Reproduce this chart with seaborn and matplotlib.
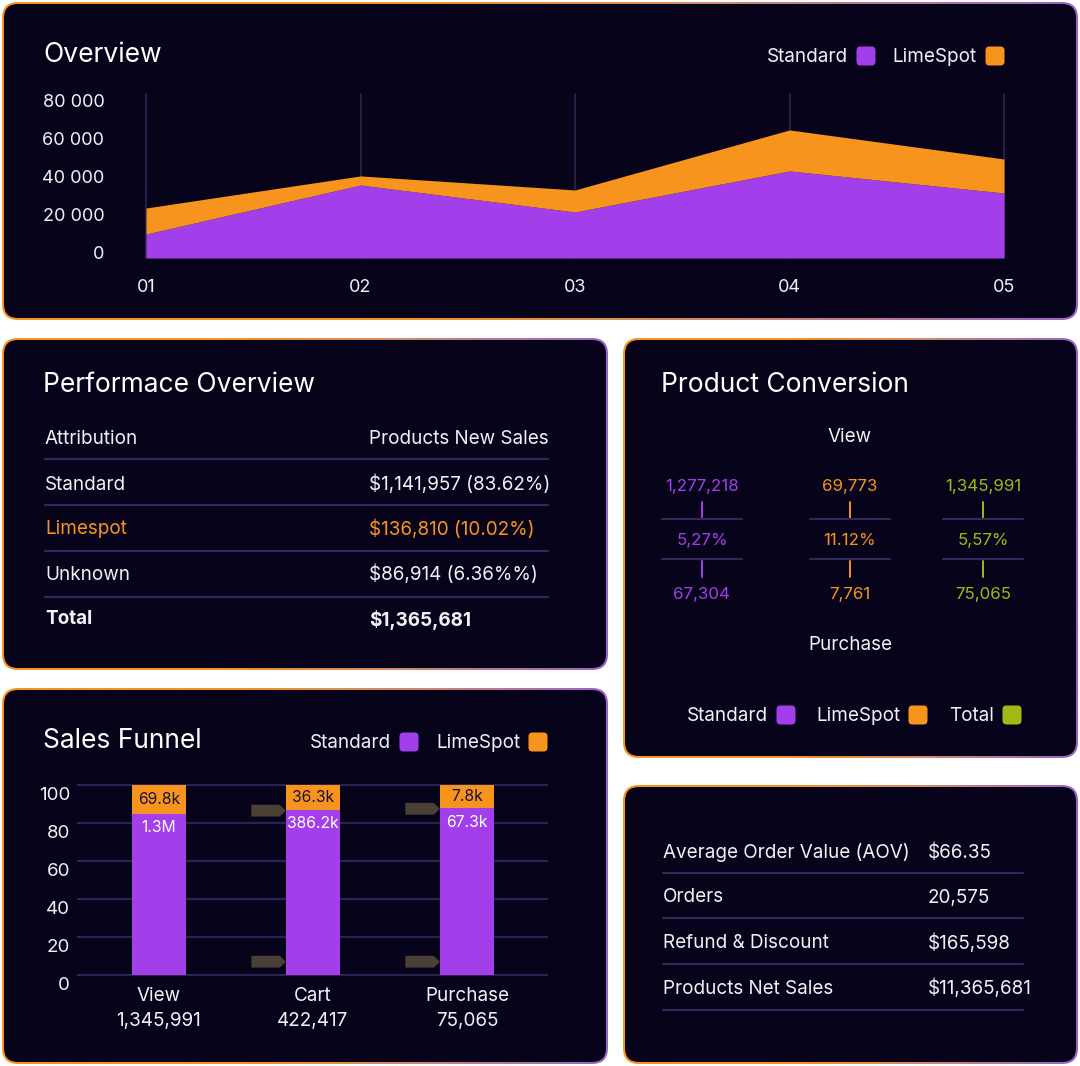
import numpy as np
import pandas as pd
import matplotlib
matplotlib.use("Agg")
import matplotlib.pyplot as plt
import matplotlib.transforms as mtransforms
from matplotlib.patches import FancyBboxPatch, Polygon
from matplotlib.colors import LinearSegmentedColormap
import seaborn as sns

# ---- data ----
periods = ["01", "02", "03", "04", "05"]
standard_sales = [12600, 38400, 24200, 45800, 34200]
limespot_sales = [13700, 4800, 11600, 21600, 17900]
overview_ticks = [0, 20000, 40000, 60000, 80000]

perf_headers = ["Attribution", "Products New Sales"]
perf_names = ["Standard", "Limespot", "Unknown", "Total"]
perf_values = ["$1,141,957 (83.62%)", "$136,810 (10.02%)", "$86,914 (6.36%%)", "$1,365,681"]

conv_series = ["Standard", "LimeSpot", "Total"]
conv_view = ["1,277,218", "69,773", "1,345,991"]
conv_rate = ["5,27%", "11.12%", "5,57%"]
conv_purchase = ["67,304", "7,761", "75,065"]

funnel_steps = ["View", "Cart", "Purchase"]
funnel_counts = ["1,345,991", "422,417", "75,065"]
funnel_standard = [85, 87, 88]
funnel_limespot = [15, 13, 12]
funnel_std_labels = ["1.3M", "386.2k", "67.3k"]
funnel_lime_labels = ["69.8k", "36.3k", "7.8k"]
funnel_ticks = [0, 20, 40, 60, 80, 100]

kpi_names = ["Average Order Value (AOV)", "Orders", "Refund & Discount", "Products Net Sales"]
kpi_values = ["$66.35", "20,575", "$165,598", "$11,365,681"]

# ---- style ----
BG = "#07031a"
PURPLE = "#a23fea"
ORANGE = "#f7941d"
GREEN = "#a3b814"
GRID = "#2b2452"
LINE = "#2f2a5a"
TEXT = "#f2f0f7"
ARROW = "#4a4036"
TITLE_SIZE = 19
BODY_SIZE = 13.6

sns.set_theme(style="dark")
plt.rcParams["font.family"] = ["Inter", "DejaVu Sans"]

W, H = 1080, 1066
fig = plt.figure(figsize=(W / 100, H / 100), dpi=100)
fig.patch.set_facecolor("white")

bg = fig.add_axes([0, 0, 1, 1])
bg.set_facecolor("white")
bg.axis("off")

edge_cmap = LinearSegmentedColormap.from_list("edge", [ORANGE, ORANGE, "#d08a6a", "#9b62c8"])
grad = np.linspace(0, 1, 256)[None, :]


def panel(x0, y0, x1, y1, r=16):
    outer = FancyBboxPatch((x0, y0), x1 - x0, y1 - y0,
                           boxstyle=f"round,pad=0,rounding_size={r}",
                           facecolor="none", edgecolor="none")
    bg.add_patch(outer)
    im = bg.imshow(grad, cmap=edge_cmap, extent=(x0, x1, y1, y0),
                   aspect="auto", interpolation="bilinear", zorder=1)
    im.set_clip_path(outer)
    inner = FancyBboxPatch((x0 + 2, y0 + 2), x1 - x0 - 4, y1 - y0 - 4,
                           boxstyle=f"round,pad=0,rounding_size={r - 2}",
                           facecolor=BG, edgecolor="none", zorder=2)
    bg.add_patch(inner)


def swatch(xc, yc, color, s=19):
    bg.add_patch(FancyBboxPatch((xc - s / 2, yc - s / 2), s, s,
                                boxstyle="round,pad=0,rounding_size=4",
                                facecolor=color, edgecolor="none", zorder=5))


def legend_item(label, xc, yc, color):
    swatch(xc, yc, color)
    bg.text(xc - 18, yc + 1, label, ha="right", va="center", color=TEXT, fontsize=BODY_SIZE, zorder=5)


def btext(x, y, s, **kw):
    kw.setdefault("color", TEXT)
    kw.setdefault("fontsize", BODY_SIZE)
    kw.setdefault("va", "center")
    # small nudge: Inter sits a touch higher than the original font
    bg.text(x, y + 1.5, s, zorder=5, **kw)


def px_axes(x0, y0, x1, y1):
    ax = fig.add_axes([x0 / W, 1 - y1 / H, (x1 - x0) / W, (y1 - y0) / H])
    ax.set_facecolor("none")
    return ax


panel(2, 2, 1078, 320)
panel(2, 338, 608, 670)
panel(623, 338, 1078, 758)
panel(2, 688, 608, 1064)
panel(623, 785, 1078, 1064)

# ---- Overview ----
btext(43, 53, "Overview", fontsize=TITLE_SIZE, color="white")
legend_item("Standard", 866, 56, PURPLE)
legend_item("LimeSpot", 995, 56, ORANGE)

ax1 = px_axes(146, 94, 1004, 258)
x = np.arange(len(periods))
ax1.stackplot(x, standard_sales, limespot_sales, colors=[PURPLE, ORANGE], linewidth=0, zorder=2)
for xi in x:
    ax1.axvline(xi, color=GRID, lw=1.2, zorder=1, clip_on=False)
ax1.set_xlim(0, len(periods) - 1)
ax1.set_ylim(0, 86300)
ax1.set_xticks(x, periods)
ax1.set_yticks(overview_ticks, [f"{v:,}".replace(",", " ") for v in overview_ticks])
ax1.grid(False)
for s in ax1.spines.values():
    s.set_visible(False)
ax1.tick_params(length=0, colors=TEXT, labelsize=13)
ax1.tick_params(axis="y", pad=30)
ax1.tick_params(axis="x", pad=15)
up = mtransforms.ScaledTranslation(0, 5 / 100, fig.dpi_scale_trans)
for lab in ax1.get_yticklabels():
    lab.set_transform(lab.get_transform() + up)

# ---- Performance overview ----
btext(43, 384, "Performace Overview", fontsize=TITLE_SIZE, color="white")
btext(45, 437, perf_headers[0])
btext(369, 437, perf_headers[1])
row_y = [483, 528, 573, 618]
line_y = [459, 505, 551, 597]
for ly in line_y:
    bg.plot([45, 548], [ly, ly], color=LINE, lw=1.6, zorder=4)
for i, (name, val) in enumerate(zip(perf_names, perf_values)):
    col = ORANGE if name == "Limespot" else TEXT
    weight = "bold" if name == "Total" else "normal"
    btext(45, row_y[i], name, color=col, fontweight=weight)
    btext(369, row_y[i], val, color=col, fontweight=weight)

# ---- Product conversion ----
btext(661, 384, "Product Conversion", fontsize=TITLE_SIZE, color="white")
btext(850, 436, "View", ha="center")
btext(850, 644, "Purchase", ha="center")
conv_colors = [PURPLE, ORANGE, GREEN]
conv_x = [702, 850, 983]
for cx, col, v, r, p in zip(conv_x, conv_colors, conv_view, conv_rate, conv_purchase):
    btext(cx, 485, v, ha="center", color=col, fontsize=12.2)
    bg.plot([cx, cx], [502, 518], color=col, lw=1.4, zorder=4)
    bg.plot([cx - 40, cx + 40], [519, 519], color=LINE, lw=1.6, zorder=4)
    btext(cx, 539, r, ha="center", color=col, fontsize=12.2)
    bg.plot([cx - 40, cx + 40], [559, 559], color=LINE, lw=1.6, zorder=4)
    bg.plot([cx, cx], [561, 577], color=col, lw=1.4, zorder=4)
    btext(cx, 593, p, ha="center", color=col, fontsize=12.2)
legend_item(conv_series[0], 786, 715, PURPLE)
legend_item(conv_series[1], 918, 715, ORANGE)
legend_item(conv_series[2], 1012, 715, GREEN)

# ---- Sales funnel ----
btext(43, 740, "Sales Funnel", fontsize=TITLE_SIZE, color="white")
legend_item("Standard", 409, 742, PURPLE)
legend_item("LimeSpot", 538, 742, ORANGE)

df = pd.DataFrame({
    "step": funnel_steps,
    "standard": funnel_standard,
    "total": [s + l for s, l in zip(funnel_standard, funnel_limespot)],
})
ax2 = px_axes(77, 783.1, 548, 976.9)
sns.barplot(data=df, x="step", y="total", color=ORANGE, saturation=1, width=0.35,
            linewidth=0, ax=ax2, zorder=3)
sns.barplot(data=df, x="step", y="standard", color=PURPLE, saturation=1, width=0.35,
            linewidth=0, ax=ax2, zorder=3)
ax2.set_xlim(-0.532, 2.526)
ax2.set_ylim(-1, 101)
ax2.set_yticks(funnel_ticks)
ax2.set_xticks([])
ax2.set_xlabel("")
ax2.set_ylabel("")
ax2.yaxis.grid(True, color=GRID, lw=1.6)
ax2.set_axisbelow(True)
for s in ax2.spines.values():
    s.set_visible(False)
ax2.tick_params(length=0, colors=TEXT, labelsize=13.5, pad=5)
down = mtransforms.ScaledTranslation(0, -8 / 100, fig.dpi_scale_trans)
for lab in ax2.get_yticklabels():
    lab.set_transform(lab.get_transform() + down)

for i, step in enumerate(funnel_steps):
    std = funnel_standard[i]
    lime = funnel_limespot[i]
    ax2.text(i, std + lime / 2, funnel_lime_labels[i], ha="center", va="center",
             color="#1b1030", fontsize=11.3, zorder=5)
    ax2.text(i, std - 7.5, funnel_std_labels[i], ha="center", va="center",
             color="white", fontsize=11.3, zorder=5)
    ax2.text(i, -11, step, ha="center", va="center", color=TEXT, fontsize=BODY_SIZE)
    ax2.text(i, -24, funnel_counts[i], ha="center", va="center", color=TEXT, fontsize=BODY_SIZE)
    if i > 0:
        for ay in (std - 0.5, 7):
            ax2.add_patch(Polygon([[i - 0.40, ay - 3.1], [i - 0.215, ay - 3.1], [i - 0.176, ay],
                                   [i - 0.215, ay + 3.1], [i - 0.40, ay + 3.1]],
                                  closed=True, facecolor=ARROW, edgecolor="none", zorder=4))

# ---- KPIs ----
kpi_row_y = [851, 896, 942, 987]
kpi_line_y = [873, 918, 964, 1010]
for name, val, ry, ly in zip(kpi_names, kpi_values, kpi_row_y, kpi_line_y):
    btext(663, ry, name)
    btext(928, ry, val)
    bg.plot([663, 1023], [ly, ly], color=LINE, lw=1.6, zorder=4)

bg.set_xlim(0, W)
bg.set_ylim(H, 0)

fig.savefig("out.png", dpi=100, facecolor="white")
